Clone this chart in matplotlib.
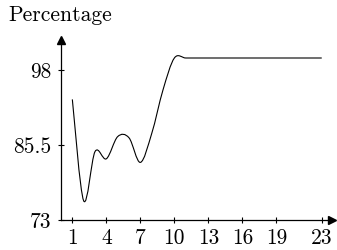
import matplotlib
matplotlib.use("Agg")
import matplotlib.pyplot as plt
from matplotlib.path import Path
from matplotlib.patches import PathPatch

plt.rcParams['font.family'] = ['cmr10', 'DejaVu Serif']
plt.rcParams['axes.unicode_minus'] = False

x_vals = list(range(1, 24))
y_vals = [93.1, 76.2, 84.4, 83.2, 86.9, 86.7, 82.6, 87.4, 94.7, 100.0,
          100.0, 100.0, 100.0, 100.0, 100.0, 100.0, 100.0, 100.0, 100.0,
          100.0, 100.0, 100.0, 100.0]
x_ticks = [1, 4, 7, 10, 13, 16, 19, 23]
y_ticks = [73, 85.5, 98]
y_tick_labels = ["73", "85.5", "98"]
y_label = "Percentage"

fig = plt.figure(figsize=(3.37, 2.5), dpi=100)
ax = fig.add_axes([0.181, 0.12, 0.804, 0.72])
ax.set_xlim(0, 23.9)
ax.set_ylim(73, 103.0)

# smooth curve (Catmull-Rom style Bezier, like TikZ "smooth")
k = 1.0 / 6.0
n = len(x_vals)
pts = list(zip(x_vals, y_vals))
verts = [pts[0]]
codes = [Path.MOVETO]
for i in range(n - 1):
    p_prev = pts[i - 1] if i > 0 else pts[i]
    p0 = pts[i]
    p1 = pts[i + 1]
    p_next = pts[i + 2] if i + 2 < n else pts[i + 1]
    c1 = (p0[0] + k * (p1[0] - p_prev[0]), p0[1] + k * (p1[1] - p_prev[1]))
    c2 = (p1[0] - k * (p_next[0] - p0[0]), p1[1] - k * (p_next[1] - p0[1]))
    verts += [c1, c2, p1]
    codes += [Path.CURVE4] * 3
patch = PathPatch(Path(verts, codes), facecolor='none', edgecolor='black', lw=0.8)
ax.add_patch(patch)

for s in ['top', 'right']:
    ax.spines[s].set_visible(False)
for s in ['left', 'bottom']:
    ax.spines[s].set_linewidth(0.9)

ax.set_xticks(x_ticks)
ax.set_xticklabels([str(t) for t in x_ticks])
ax.set_yticks(y_ticks)
ax.set_yticklabels(y_tick_labels)
ax.tick_params(direction='inout', length=4, width=0.8, labelsize=15.5)
ax.tick_params(axis='y', pad=5)
ax.tick_params(axis='x', pad=4)

ax.plot(1, 0, marker='>', color='black', markersize=6, transform=ax.transAxes, clip_on=False)
ax.plot(0, 1, marker='^', color='black', markersize=6, transform=ax.transAxes, clip_on=False)

fig.text(0.024, 0.94, y_label, fontsize=15.5, ha='left', va='center')

fig.savefig("out.png", dpi=100)
